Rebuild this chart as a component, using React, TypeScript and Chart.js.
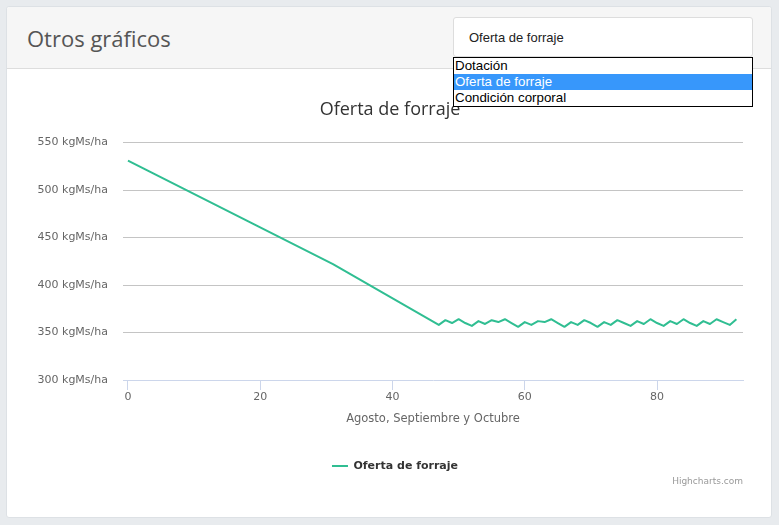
import { useEffect, useRef } from 'react'
import { Chart, registerables } from 'chart.js'

Chart.register(...registerables)

// Forage offer per day (Aug 1 = day 0)
const SERIES_NAME = 'Oferta de forraje'
const DAYS = [
  0, 31, 47, 48, 49, 50, 51, 52, 53, 54, 55, 56, 57, 58, 59, 60, 61, 62, 63, 64, 65, 66, 67, 68, 69,
  70, 71, 72, 73, 74, 75, 76, 77, 78, 79, 80, 81, 82, 83, 84, 85, 86, 87, 88, 89, 90, 91, 92,
]
const FORAGE = [
  531, 422, 358, 363, 360, 364, 360, 357, 362, 359, 363, 361, 364, 360, 356, 361, 358, 362, 361, 364,
  360, 356, 361, 358, 363, 360, 356, 361, 358, 363, 360, 357, 362, 359, 364, 360, 357, 362, 359, 364,
  360, 357, 362, 359, 364, 361, 358, 364,
]
const X_TICKS = [0, 20, 40, 60, 80]
const Y_TICKS = [300, 350, 400, 450, 500, 550]
const SELECT_OPTIONS = ['Dotación', 'Oferta de forraje', 'Condición corporal']

const LINE_COLOR = '#30be92'
const AXIS_FONT = '"DejaVu Sans", Verdana, sans-serif'

// highcharts centers its legend a few px right of the title
const legendShift = {
  id: 'legendShift',
  afterLayout(chart: Chart) {
    if (chart.legend) {
      chart.legend.left += 5
      chart.legend.right += 5
    }
  },
}

function ForageChart() {
  const canvasRef = useRef<HTMLCanvasElement>(null)
  const chartRef = useRef<Chart | null>(null)

  useEffect(() => {
    if (!canvasRef.current) return
    if (chartRef.current) chartRef.current.destroy()

    const points = DAYS.map((d, i) => ({ x: d, y: FORAGE[i] }))

    chartRef.current = new Chart(canvasRef.current, {
      type: 'line',
      data: {
        datasets: [
          {
            label: SERIES_NAME,
            data: points,
            borderColor: LINE_COLOR,
            backgroundColor: LINE_COLOR,
            borderWidth: 2,
            borderJoinStyle: 'round',
            pointRadius: 0,
            tension: 0,
            fill: false,
          },
        ],
      },
      options: {
        animation: false,
        responsive: true,
        maintainAspectRatio: false,
        layout: { padding: { left: 37, right: 36, top: 0, bottom: 15.5 } },
        plugins: {
          tooltip: { enabled: false },
          title: {
            display: true,
            text: SERIES_NAME,
            color: '#333333',
            font: { family: '"Open Sans", sans-serif', size: 18, weight: 'normal' },
            padding: { top: 12, bottom: 22 },
          },
          legend: {
            position: 'bottom',
            labels: {
              usePointStyle: true,
              pointStyle: 'line',
              pointStyleWidth: 16,
              boxWidth: 16,
              padding: 10,
              color: '#333333',
              font: { family: AXIS_FONT, size: 11, weight: 'bold' },
            },
          },
        },
        scales: {
          x: {
            type: 'linear',
            min: -0.75,
            max: 93,
            afterBuildTicks: (scale) => {
              scale.ticks = X_TICKS.map((v) => ({ value: v }))
            },
            grid: {
              drawOnChartArea: false,
              drawTicks: true,
              tickLength: 10,
              tickColor: '#ccd6eb',
              color: '#ccd6eb',
            },
            border: { display: true, color: '#ccd6eb', width: 1 },
            ticks: {
              color: '#666666',
              padding: 1,
              maxRotation: 0,
              font: { family: AXIS_FONT, size: 11 },
            },
            title: {
              display: true,
              text: 'Agosto, Septiembre y Octubre',
              color: '#666666',
              font: { family: AXIS_FONT, size: 11.5 },
              padding: { top: 7, bottom: 24.5 },
            },
          },
          y: {
            min: 300,
            max: 550,
            afterBuildTicks: (scale) => {
              scale.ticks = Y_TICKS.map((v) => ({ value: v }))
            },
            afterFit: (scale) => {
              scale.width = 86
            },
            grid: {
              drawTicks: false,
              color: (ctx) => (ctx.tick && ctx.tick.value === 300 ? 'rgba(0,0,0,0)' : '#c4c4c4'),
            },
            border: { display: false },
            ticks: {
              color: '#666666',
              padding: 15,
              font: { family: AXIS_FONT, size: 11 },
              callback: (v) => `${v} kgMs/ha`,
            },
          },
        },
      },
      plugins: [legendShift],
    })

    return () => {
      if (chartRef.current) {
        chartRef.current.destroy()
        chartRef.current = null
      }
    }
  }, [])

  return (
    <div style={{ position: 'absolute', left: 0, top: 87, width: 779, height: 410 }}>
      <canvas ref={canvasRef}></canvas>
    </div>
  )
}

export default function App() {
  return (
    <div
      style={{
        position: 'fixed',
        left: 0,
        top: 0,
        width: 779,
        height: 525,
        background: '#e8ebee',
        overflow: 'hidden',
      }}
    >
      {/* panel */}
      <div
        style={{
          position: 'absolute',
          left: 6,
          top: 6,
          width: 764,
          height: 510,
          background: '#ffffff',
          border: '1px solid #dde1e5',
          borderRadius: 3,
        }}
      >
        <div
          style={{
            height: 61,
            background: '#f6f6f6',
            borderBottom: '1px solid #dddddd',
            borderTopLeftRadius: 3,
            borderTopRightRadius: 3,
          }}
        ></div>
        <div
          style={{
            position: 'absolute',
            left: 20,
            top: 16,
            fontFamily: '"Open Sans", sans-serif',
            fontSize: 22,
            lineHeight: '30px',
            color: '#555555',
          }}
        >
          Otros gráficos
        </div>
      </div>

      <ForageChart />

      <div
        style={{
          position: 'absolute',
          right: 36,
          top: 475,
          fontFamily: AXIS_FONT,
          fontSize: 9,
          lineHeight: '12px',
          color: '#999999',
        }}
      >
        Highcharts.com
      </div>

      {/* select box */}
      <div
        style={{
          position: 'absolute',
          left: 453,
          top: 17,
          width: 300,
          height: 40,
          boxSizing: 'border-box',
          background: '#ffffff',
          border: '1px solid #dddddd',
          borderRadius: 3,
          fontFamily: '"Liberation Sans", Arial, sans-serif',
          fontSize: 13,
          lineHeight: '40px',
          paddingLeft: 15,
          color: '#222222',
        }}
      >
        {SELECT_OPTIONS[1]}
      </div>

      {/* open dropdown */}
      <div
        style={{
          position: 'absolute',
          left: 453,
          top: 57,
          width: 300,
          boxSizing: 'border-box',
          background: '#ffffff',
          border: '1px solid #000000',
          fontFamily: '"Liberation Sans", Arial, sans-serif',
          fontSize: 13.333,
        }}
      >
        {SELECT_OPTIONS.map((opt, i) => (
          <div
            key={opt}
            style={{
              height: 16,
              lineHeight: '16px',
              paddingLeft: 1,
              background: i === 1 ? '#3797fb' : 'transparent',
              color: i === 1 ? '#ffffff' : '#000000',
            }}
          >
            {opt}
          </div>
        ))}
      </div>
    </div>
  )
}
